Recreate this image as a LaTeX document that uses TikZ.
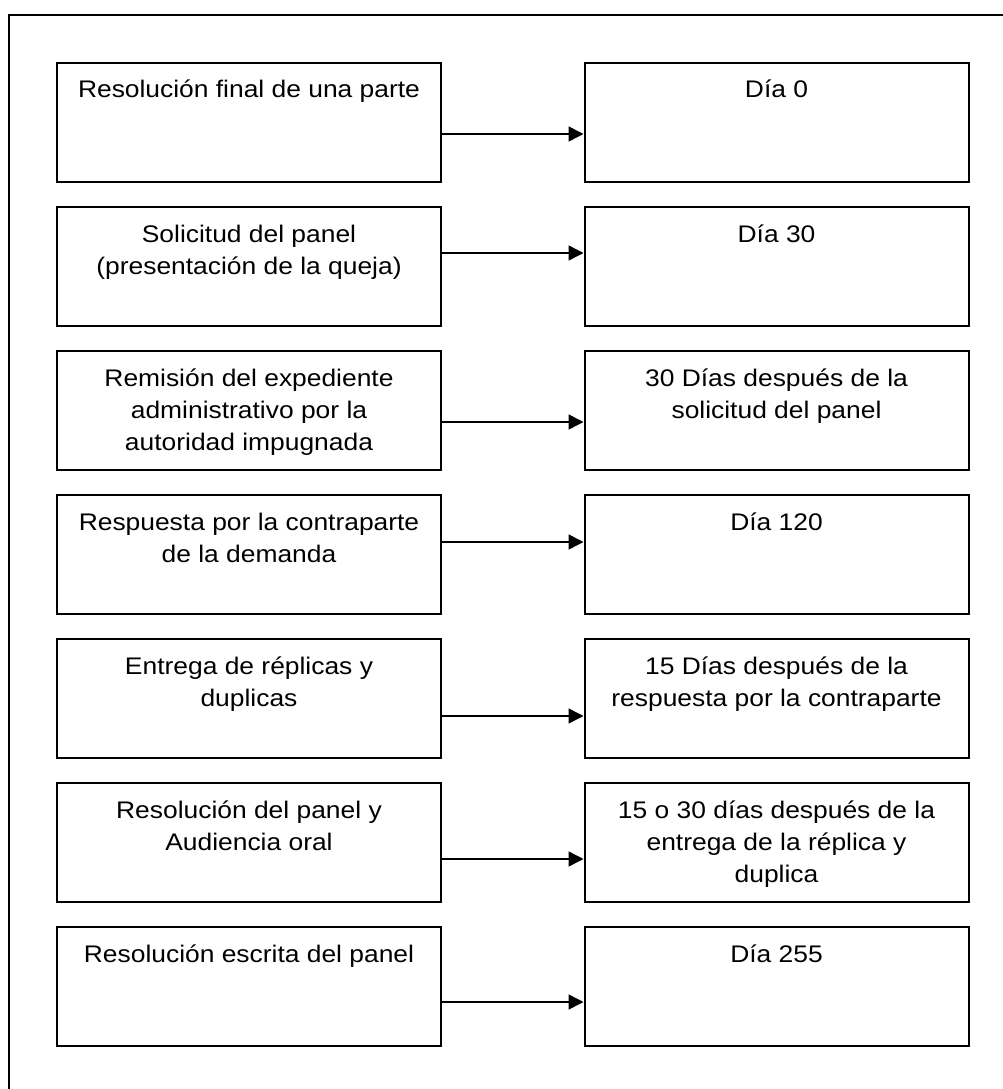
\documentclass[tikz,border=0pt]{standalone}
\usepackage{fontspec}
\setmainfont{Liberation Sans}[FakeStretch=1.1]
\usetikzlibrary{arrows.meta}
\tikzset{
  box/.style={draw, line width=2pt, rectangle, minimum width=384pt, minimum height=119pt, inner sep=0pt},
  txt/.style={anchor=base, inner sep=0pt, font=\fontsize{24}{32}\selectfont},
  arr/.style={line width=1.5pt, -{Triangle[length=15pt,width=15pt]}},
  frame/.style={line width=2pt}
}
\newcommand{\bt}[1]{\parbox[t]{380pt}{\centering #1}}
\begin{document}
\begin{tikzpicture}[x=1pt,y=-1pt]
\useasboundingbox (0,0) rectangle (1003,1089);
\coordinate (fa) at (9,1089);
\coordinate (fb) at (9,15);
\coordinate (fc) at (1003,15);
\draw[frame] (fa) -- (fb) -- (fc);
% rows
\foreach \i/\t in {1/63,2/207,3/351,4/495,5/639,6/783,7/927}{
  \node[box] (l\i) at (249,\t+59.5) {};
  \node[box] (r\i) at (776.5,\t+59.5) {};
}
\node[txt] (l1t) at ([yshift=-36pt]l1.north) {\bt{Resolución final de una parte}};
\node[txt] (r1t) at ([yshift=-36pt]r1.north) {\bt{Día 0}};
\node[txt] (l2t) at ([yshift=-36pt]l2.north) {\bt{Solicitud del panel\\(presentación de la queja)}};
\node[txt] (r2t) at ([yshift=-36pt]r2.north) {\bt{Día 30}};
\node[txt] (l3t) at ([yshift=-36pt]l3.north) {\bt{Remisión del expediente\\administrativo por la\\autoridad impugnada}};
\node[txt] (r3t) at ([yshift=-36pt]r3.north) {\bt{30 Días después de la\\solicitud del panel}};
\node[txt] (l4t) at ([yshift=-36pt]l4.north) {\bt{Respuesta por la contraparte\\de la demanda}};
\node[txt] (r4t) at ([yshift=-36pt]r4.north) {\bt{Día 120}};
\node[txt] (l5t) at ([yshift=-36pt]l5.north) {\bt{Entrega de réplicas y\\duplicas}};
\node[txt] (r5t) at ([yshift=-36pt]r5.north) {\bt{15 Días después de la\\respuesta por la contraparte}};
\node[txt] (l6t) at ([yshift=-36pt]l6.north) {\bt{Resolución del panel y\\Audiencia oral}};
\node[txt] (r6t) at ([yshift=-36pt]r6.north) {\bt{15 o 30 días después de la\\entrega de la réplica y\\duplica}};
\node[txt] (l7t) at ([yshift=-36pt]l7.north) {\bt{Resolución escrita del panel}};
\node[txt] (r7t) at ([yshift=-36pt]r7.north) {\bt{Día 255}};
% arrows
\foreach \i/\o in {1/72,2/47,3/72,4/48,5/78,6/77,7/76}{
  \draw[arr] ([yshift=-\o pt]l\i.north east) -- ([yshift=-\o pt]r\i.north west);
}
\end{tikzpicture}
\end{document}
